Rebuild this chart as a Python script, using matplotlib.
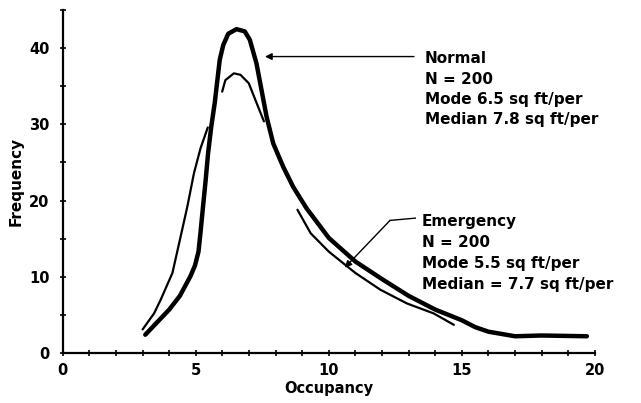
import numpy as np
import matplotlib
matplotlib.use('Agg')
import matplotlib.pyplot as plt

# Normal occupancy curve (thick)
normal_x = [3.1, 3.4, 4.0, 4.4, 4.8, 4.97, 5.1, 5.17, 5.27, 5.37, 5.46, 5.58, 5.71,
            5.84, 5.9, 6.03, 6.22, 6.53, 6.84, 7.03, 7.28, 7.47, 7.66, 7.91,
            8.29, 8.66, 9.16, 10.0, 11.0, 12.0, 13.0, 14.0, 15.0, 15.5, 16.0,
            17.0, 18.0, 19.7]
normal_y = [2.4, 3.5, 5.7, 7.5, 10.1, 11.5, 13.3, 15.6, 19.2, 22.7, 26.2, 29.7, 32.8,
            36.7, 38.5, 40.4, 41.9, 42.5, 42.2, 41.1, 38.0, 34.5, 31.0, 27.5,
            24.4, 21.8, 19.0, 15.1, 12.0, 9.7, 7.5, 5.7, 4.3, 3.4, 2.8,
            2.2, 2.3, 2.2]

# Emergency occupancy curve (thin), drawn in three pieces in the original
emerg_x1 = [3.0, 3.43, 3.68, 4.12, 4.43, 4.68, 4.93, 5.18, 5.45]
emerg_y1 = [3.1, 5.2, 7.0, 10.5, 15.3, 19.2, 23.6, 26.9, 29.6]
emerg_x2 = [5.99, 6.11, 6.43, 6.68, 6.99, 7.24, 7.56]
emerg_y2 = [34.3, 35.8, 36.7, 36.5, 35.4, 33.2, 30.4]
emerg_x3 = [8.82, 9.32, 10.0, 11.0, 11.94, 12.94, 13.94, 14.7]
emerg_y3 = [18.8, 15.7, 13.3, 10.5, 8.3, 6.5, 5.2, 3.7]

normal_text = ['Normal', 'N = 200', 'Mode 6.5 sq ft/per', 'Median 7.8 sq ft/per']
emerg_text = ['Emergency', 'N = 200', 'Mode 5.5 sq ft/per', 'Median = 7.7 sq ft/per']

plt.rcParams['font.family'] = ['DejaVu Sans']
plt.rcParams['font.weight'] = 'bold'
plt.rcParams['axes.labelweight'] = 'bold'

fig = plt.figure(figsize=(6.41, 4.03), dpi=100)
ax = fig.add_axes([0.098, 0.124, 0.830, 0.851])

ax.plot(normal_x, normal_y, color='black', lw=3.2, solid_capstyle='round')
for ex, ey in [(emerg_x1, emerg_y1), (emerg_x2, emerg_y2), (emerg_x3, emerg_y3)]:
    ax.plot(ex, ey, color='black', lw=1.6, solid_capstyle='round')

ax.set_xlim(0, 20)
ax.set_ylim(0, 45)
ax.set_xticks(np.arange(0, 21, 5))
ax.set_xticks(np.arange(0, 21, 1), minor=True)
ax.set_yticks(np.arange(0, 41, 10))
ax.set_yticks(np.arange(0, 46, 5), minor=True)
ax.tick_params(which='both', direction='inout', length=5, width=1.2, labelsize=10.5, pad=5)
ax.tick_params(axis='y', pad=7)
for s in ['top', 'right']:
    ax.spines[s].set_visible(False)
for s in ['left', 'bottom']:
    ax.spines[s].set_linewidth(1.6)

ax.set_xlabel('Occupancy', fontsize=10.5, labelpad=2)
ax.set_ylabel('Frequency', fontsize=11, labelpad=4)

# annotations
ax.annotate('', xy=(7.6, 38.9), xytext=(13.2, 38.9),
            arrowprops=dict(arrowstyle='-|>', color='black', lw=1.0,
                            mutation_scale=10, shrinkA=0, shrinkB=0))
for i, t in enumerate(normal_text):
    ax.text(13.6, 38.6 - i * 2.65, t, fontsize=11, va='center', ha='left')

ax.annotate('', xy=(10.6, 11.2), xytext=(12.3, 17.4),
            arrowprops=dict(arrowstyle='-|>', color='black', lw=1.0,
                            mutation_scale=10, shrinkA=0, shrinkB=0))
ax.plot([12.3, 13.25], [17.4, 17.7], color='black', lw=1.0)
for i, t in enumerate(emerg_text):
    ax.text(13.5, 17.3 - i * 2.75, t, fontsize=11, va='center', ha='left')

fig.savefig('out.png', dpi=100)
